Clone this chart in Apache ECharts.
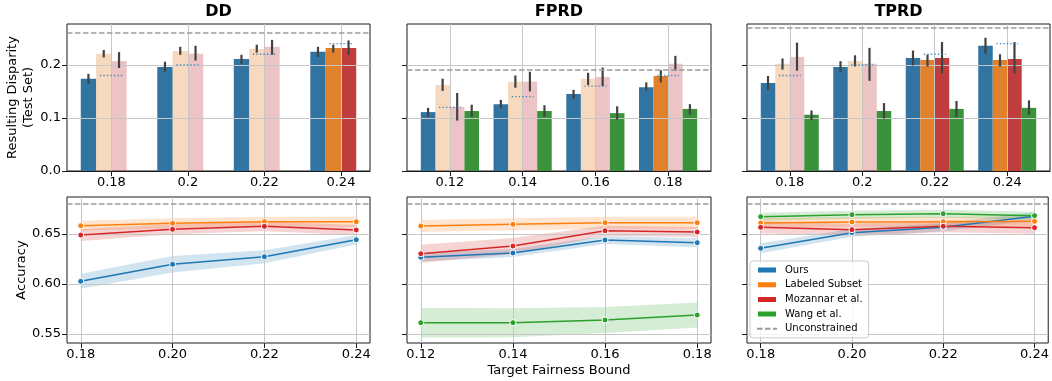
<!DOCTYPE html>
<html>
<head>
<meta charset="utf-8">
<script src="https://cdn.jsdelivr.net/npm/echarts@6/dist/echarts.min.js"></script>
<style>
html,body{margin:0;padding:0;background:#fff;}
#chart{width:1052px;height:381px;}
</style>
</head>
<body>
<div id="chart"></div>
<script>
// ---------------- DATA ----------------
const methods = ['Ours', 'Labeled Subset', 'Mozannar et al.', 'Wang et al.'];

// Top row: resulting disparity (test set)
const ddCats = ['0.18', '0.2', '0.22', '0.24'];
const ddBounds = [0.18, 0.20, 0.22, 0.24];
const ddOurs = [0.174, 0.196, 0.211, 0.2245];
const ddOursErr = [[0.164, 0.183], [0.187, 0.206], [0.202, 0.219], [0.215, 0.234]];
const ddLabeled = [0.221, 0.226, 0.230, 0.232];
const ddLabeledErr = [[0.214, 0.228], [0.219, 0.234], [0.223, 0.238], [0.223, 0.238]];
const ddMozannar = [0.2075, 0.221, 0.234, 0.232];
const ddMozannarErr = [[0.194, 0.224], [0.208, 0.236], [0.219, 0.247], [0.219, 0.246]];
const ddWang = [null, null, null, null];
const ddWangErr = [null, null, null, null];
const ddUnconstrained = 0.257;

const fprdCats = ['0.12', '0.14', '0.16', '0.18'];
const fprdBounds = [0.12, 0.14, 0.16, 0.18];
const fprdOurs = [0.111, 0.126, 0.145, 0.158];
const fprdOursErr = [[0.102, 0.119], [0.118, 0.134], [0.136, 0.153], [0.152, 0.167]];
const fprdLabeled = [0.162, 0.168, 0.174, 0.179];
const fprdLabeledErr = [[0.151, 0.174], [0.157, 0.180], [0.162, 0.185], [0.167, 0.190]];
const fprdMozannar = [0.121, 0.168, 0.177, 0.202];
const fprdMozannarErr = [[0.095, 0.147], [0.150, 0.187], [0.160, 0.195], [0.189, 0.217]];
const fprdWang = [0.113, 0.113, 0.109, 0.117];
const fprdWangErr = [[0.102, 0.125], [0.102, 0.124], [0.097, 0.122], [0.106, 0.126]];
const fprdUnconstrained = 0.191;

const tprdCats = ['0.18', '0.2', '0.22', '0.24'];
const tprdBounds = [0.18, 0.20, 0.22, 0.24];
const tprdOurs = [0.166, 0.196, 0.213, 0.236];
const tprdOursErr = [[0.153, 0.179], [0.186, 0.207], [0.199, 0.227], [0.221, 0.251]];
const tprdLabeled = [0.202, 0.2075, 0.209, 0.209];
const tprdLabeledErr = [[0.191, 0.212], [0.197, 0.218], [0.197, 0.219], [0.197, 0.220]];
const tprdMozannar = [0.215, 0.202, 0.213, 0.211];
const tprdMozannarErr = [[0.189, 0.242], [0.170, 0.232], [0.184, 0.243], [0.184, 0.243]];
const tprdWang = [0.106, 0.113, 0.117, 0.119];
const tprdWangErr = [[0.096, 0.114], [0.099, 0.128], [0.102, 0.132], [0.106, 0.133]];
const tprdUnconstrained = 0.265;

const disparityTicks = [0, 0.1, 0.2];

// Bottom row: accuracy (mean and half-width of band)
const ddX = [0.18, 0.20, 0.22, 0.24];
const accDDOurs = [0.6027, 0.6197, 0.6273, 0.6443];
const accDDOursCI = [0.0075, 0.0083, 0.0065, 0.0047];
const accDDLabeled = [0.6583, 0.6607, 0.6623, 0.6623];
const accDDLabeledCI = [0.005, 0.005, 0.005, 0.005];
const accDDMozannar = [0.649, 0.6547, 0.6577, 0.654];
const accDDMozannarCI = [0.006, 0.005, 0.005, 0.005];
const accDDUnconstrained = 0.678;

const fprdX = [0.12, 0.14, 0.16, 0.18];
const accFPRDOurs = [0.6267, 0.631, 0.644, 0.6413];
const accFPRDOursCI = [0.0042, 0.004, 0.004, 0.0045];
const accFPRDLabeled = [0.658, 0.6597, 0.6613, 0.6613];
const accFPRDLabeledCI = [0.006, 0.006, 0.006, 0.006];
const accFPRDMozannar = [0.6303, 0.638, 0.6533, 0.652];
const accFPRDMozannarCI = [0.009, 0.008, 0.005, 0.005];
const accFPRDWang = [0.5613, 0.5613, 0.564, 0.569];
const accFPRDWangCI = [0.0147, 0.0145, 0.013, 0.0125];
const accFPRDUnconstrained = 0.680;

const tprdX = [0.18, 0.20, 0.22, 0.24];
const accTPRDOurs = [0.6357, 0.6513, 0.6567, 0.6677];
const accTPRDOursCI = [0.005, 0.004, 0.004, 0.004];
const accTPRDLabeled = [0.661, 0.662, 0.6623, 0.6627];
const accTPRDLabeledCI = [0.005, 0.005, 0.005, 0.005];
const accTPRDMozannar = [0.6567, 0.6543, 0.6577, 0.6563];
const accTPRDMozannarCI = [0.006, 0.006, 0.006, 0.006];
const accTPRDWang = [0.6673, 0.6693, 0.6703, 0.6683];
const accTPRDWangCI = [0.004, 0.004, 0.004, 0.004];
const accTPRDUnconstrained = 0.683;

const accuracyTicks = [0.55, 0.60, 0.65];

// ---------------- STYLE ----------------
const FONT = 'DejaVu Sans';
const lineColors = ['#1f77b4', '#ff7f0e', '#d62728', '#2ca02c'];
const barColors = ['#3274a1', '#e1812c', '#c03d3e', '#3a923a'];
const GRID_COLOR = '#c6c6c6';
const UNC_STYLE = {color: '#9a9a9a', width: 1.5, type: [5.5, 2.5]};

const boxes = [
  [67, 24, 303, 147], [407, 24, 304, 147], [747, 24, 303, 147],
  [67, 197, 303, 146], [407, 197, 304, 146], [747, 197, 303, 146]
];

const topPanels = [
  {title: 'DD', cats: ddCats, bounds: ddBounds, xr: [-0.58, 3.38], unc: ddUnconstrained,
   means: [ddOurs, ddLabeled, ddMozannar, ddWang], errs: [ddOursErr, ddLabeledErr, ddMozannarErr, ddWangErr]},
  {title: 'FPRD', cats: fprdCats, bounds: fprdBounds, xr: [-0.59, 3.59], unc: fprdUnconstrained,
   means: [fprdOurs, fprdLabeled, fprdMozannar, fprdWang], errs: [fprdOursErr, fprdLabeledErr, fprdMozannarErr, fprdWangErr]},
  {title: 'TPRD', cats: tprdCats, bounds: tprdBounds, xr: [-0.59, 3.59], unc: tprdUnconstrained,
   means: [tprdOurs, tprdLabeled, tprdMozannar, tprdWang], errs: [tprdOursErr, tprdLabeledErr, tprdMozannarErr, tprdWangErr]}
];

const bottomPanels = [
  {x: ddX, unc: accDDUnconstrained,
   means: [accDDOurs, accDDLabeled, accDDMozannar, null], cis: [accDDOursCI, accDDLabeledCI, accDDMozannarCI, null]},
  {x: fprdX, unc: accFPRDUnconstrained,
   means: [accFPRDOurs, accFPRDLabeled, accFPRDMozannar, accFPRDWang], cis: [accFPRDOursCI, accFPRDLabeledCI, accFPRDMozannarCI, accFPRDWangCI]},
  {x: tprdX, unc: accTPRDUnconstrained,
   means: [accTPRDOurs, accTPRDLabeled, accTPRDMozannar, accTPRDWang], cis: [accTPRDOursCI, accTPRDLabeledCI, accTPRDMozannarCI, accTPRDWangCI]}
];

// ---------------- BUILD ----------------
const grids = [], xAxes = [], yAxes = [], series = [], titles = [];

boxes.forEach(b => grids.push({left: b[0], top: b[1], width: b[2], height: b[3],
  show: true, borderColor: '#1a1a1a', borderWidth: 1, backgroundColor: 'transparent', containLabel: false}));

const tickStyle = {show: true, length: 5, inside: false, lineStyle: {color: '#1a1a1a', width: 1}};
const labelStyle = {fontFamily: FONT, fontSize: 13, color: '#000'};
const AXIS_Z = 2.5; // grid lines drawn above bars / bands, below lines (matplotlib default)

function unconstrainedSeries(xi, yi, val) {
  return {
    type: 'line', name: 'Unconstrained', xAxisIndex: xi, yAxisIndex: yi, data: [],
    symbol: 'none', color: UNC_STYLE.color, lineStyle: UNC_STYLE, z: 6,
    markLine: {silent: true, symbol: ['none', 'none'], label: {show: false},
      lineStyle: UNC_STYLE, emphasis: {disabled: true}, animation: false,
      data: [{yAxis: val}]}
  };
}

// top row
topPanels.forEach((p, g) => {
  const box = boxes[g];
  titles.push({text: p.title, left: box[0] + box[2] / 2, top: 4, textAlign: 'center', padding: 0,
    textStyle: {fontFamily: FONT, fontWeight: 'bold', fontSize: 16, color: '#000'}});
  const xi = xAxes.length;
  xAxes.push({
    type: 'value', gridIndex: g, min: p.xr[0], max: p.xr[1], position: 'bottom', z: AXIS_Z,
    axisLine: {show: false, onZero: false}, axisTick: Object.assign({customValues: [0, 1, 2, 3]}, tickStyle),
    axisLabel: Object.assign({customValues: [0, 1, 2, 3], margin: 5,
      formatter: v => p.cats[Math.round(v)] || ''}, labelStyle),
    splitLine: {show: true, lineStyle: {color: GRID_COLOR, width: 1}}
  });
  xAxes.push({
    type: 'value', gridIndex: g, min: p.xr[0], max: p.xr[1], position: 'bottom', z: 10,
    axisLine: {show: true, onZero: false, lineStyle: {color: '#1a1a1a', width: 1}},
    axisTick: {show: false}, axisLabel: {show: false}, splitLine: {show: false}
  });
  const yi = yAxes.length;
  yAxes.push({
    type: 'value', gridIndex: g, min: 0, max: 0.277, position: 'left', z: AXIS_Z,
    axisLine: {show: false, onZero: false}, axisTick: Object.assign({customValues: disparityTicks}, tickStyle),
    axisLabel: Object.assign({show: g === 0, customValues: disparityTicks, margin: 6,
      formatter: v => v.toFixed(1)}, labelStyle),
    splitLine: {show: true, lineStyle: {color: GRID_COLOR, width: 1}},
    name: g === 0 ? 'Resulting Disparity\n(Test Set)' : '',
    nameLocation: 'middle', nameRotate: 90, nameGap: 28.5,
    nameTextStyle: {fontFamily: FONT, fontSize: 13, color: '#000', lineHeight: 16}
  });

  p.means.forEach((arr, m) => {
    const data = [];
    arr.forEach((v, i) => {
      if (v !== null && v !== undefined) {
        data.push([i, v, p.errs[m][i][0], p.errs[m][i][1], p.bounds[i]]);
      }
    });
    if (!data.length) return;
    const slotOffset = -0.3 + 0.2 * m;
    // bars
    series.push({
      type: 'custom', name: 'bar-' + methods[m], xAxisIndex: xi, yAxisIndex: yi, z: 2,
      data: data, clip: true,
      renderItem: (params, api) => {
        const i = api.value(0), v = api.value(1);
        const c = i + slotOffset;
        const tl = api.coord([c - 0.1, v]);
        const br = api.coord([c + 0.1, 0]);
        const faded = v > api.value(4) + 1e-9;
        return {type: 'rect', shape: {x: tl[0], y: tl[1], width: br[0] - tl[0], height: br[1] - tl[1]},
          style: {fill: barColors[m], opacity: faded ? 0.3 : 1}};
      }
    });
    // error bars
    series.push({
      type: 'custom', name: 'err-' + methods[m], xAxisIndex: xi, yAxisIndex: yi, z: 4,
      data: data, clip: true,
      renderItem: (params, api) => {
        const c = api.value(0) + slotOffset;
        const e0 = api.coord([c, api.value(2)]);
        const e1 = api.coord([c, api.value(3)]);
        return {type: 'line', shape: {x1: e0[0], y1: e0[1], x2: e1[0], y2: e1[1]},
          style: {stroke: '#424242', lineWidth: 2.2}};
      }
    });
  });

  // target fairness bound markers (dotted)
  series.push({
    type: 'custom', name: 'target-' + g, xAxisIndex: xi, yAxisIndex: yi, z: 5,
    data: p.bounds.map((b, i) => [i, b]),
    renderItem: (params, api) => {
      const i = api.value(0), b = api.value(1);
      const a = api.coord([i - 0.15, b]), c = api.coord([i + 0.15, b]);
      return {type: 'line', shape: {x1: a[0], y1: a[1], x2: c[0], y2: c[1]},
        style: {stroke: 'rgba(31,119,180,0.85)', lineWidth: 1.3, lineDash: [1.3, 2.2]}};
    }
  });
  series.push(unconstrainedSeries(xi, yi, p.unc));
});

// bottom row
bottomPanels.forEach((p, k) => {
  const g = k + 3;
  const xmin = p.x[0] - 0.003, xmax = p.x[p.x.length - 1] + 0.003;
  const xi = xAxes.length;
  xAxes.push({
    type: 'value', gridIndex: g, min: xmin, max: xmax, position: 'bottom', z: AXIS_Z,
    axisLine: {show: false, onZero: false}, axisTick: Object.assign({customValues: p.x}, tickStyle),
    axisLabel: Object.assign({customValues: p.x, margin: 5, formatter: v => v.toFixed(2)}, labelStyle),
    splitLine: {show: true, lineStyle: {color: GRID_COLOR, width: 1}},
    name: k === 1 ? 'Target Fairness Bound' : '', nameLocation: 'middle', nameGap: 21,
    nameTextStyle: {fontFamily: FONT, fontSize: 13, color: '#000'}
  });
  const yi = yAxes.length;
  yAxes.push({
    type: 'value', gridIndex: g, min: 0.541, max: 0.687, position: 'left', z: AXIS_Z,
    axisLine: {show: false, onZero: false}, axisTick: Object.assign({customValues: accuracyTicks}, tickStyle),
    axisLabel: Object.assign({show: k === 0, customValues: accuracyTicks, margin: 6,
      formatter: v => v.toFixed(2)}, labelStyle),
    splitLine: {show: true, lineStyle: {color: GRID_COLOR, width: 1}},
    name: k === 0 ? 'Accuracy' : '', nameLocation: 'middle', nameRotate: 90, nameGap: 38,
    nameTextStyle: {fontFamily: FONT, fontSize: 13, color: '#000'}
  });
  p.means.forEach((arr, m) => {
    if (!arr) return;
    const ci = p.cis[m];
    const xs = p.x;
    series.push({
      type: 'custom', name: 'band-' + methods[m], xAxisIndex: xi, yAxisIndex: yi, z: 2 + m * 0.1,
      data: [[xs[0], arr[0]]], clip: true,
      renderItem: (params, api) => {
        const up = xs.map((x, i) => api.coord([x, arr[i] + ci[i]]));
        const dn = xs.map((x, i) => api.coord([x, arr[i] - ci[i]])).reverse();
        return {type: 'polygon', shape: {points: up.concat(dn)},
          style: {fill: lineColors[m], opacity: 0.2}};
      }
    });
    series.push({
      type: 'line', name: methods[m], xAxisIndex: xi, yAxisIndex: yi, z: 3 + m * 0.1,
      data: xs.map((x, i) => [x, arr[i]]),
      color: lineColors[m],
      symbol: 'circle', symbolSize: 6, showSymbol: true,
      itemStyle: {color: lineColors[m], borderColor: '#fff', borderWidth: 1},
      lineStyle: {color: lineColors[m], width: 1.5},
      emphasis: {disabled: true}
    });
  });
  series.push(unconstrainedSeries(xi, yi, p.unc));
});

const chart = echarts.init(document.getElementById('chart'), null, {renderer: 'canvas'});
chart.setOption({
  animation: false,
  backgroundColor: '#fff',
  textStyle: {fontFamily: FONT},
  title: titles,
  grid: grids,
  xAxis: xAxes,
  yAxis: yAxes,
  legend: {
    data: [
      {name: 'Ours', icon: 'rect'},
      {name: 'Labeled Subset', icon: 'rect'},
      {name: 'Mozannar et al.', icon: 'rect'},
      {name: 'Wang et al.', icon: 'rect'},
      {name: 'Unconstrained', itemStyle: {opacity: 0, borderWidth: 0}}
    ],
    orient: 'vertical', left: 750, top: 261, z: 8,
    itemWidth: 20, itemHeight: 7, itemGap: 2.7,
    padding: [3, 6, 3, 6],
    backgroundColor: 'rgba(255,255,255,0.8)', borderColor: '#cccccc', borderWidth: 1, borderRadius: 3,
    selectedMode: false,
    textStyle: {fontFamily: FONT, fontSize: 10, color: '#000', lineHeight: 12, padding: [0, 0, 0, 3]}
  },
  series: series
});
</script>
</body>
</html>
